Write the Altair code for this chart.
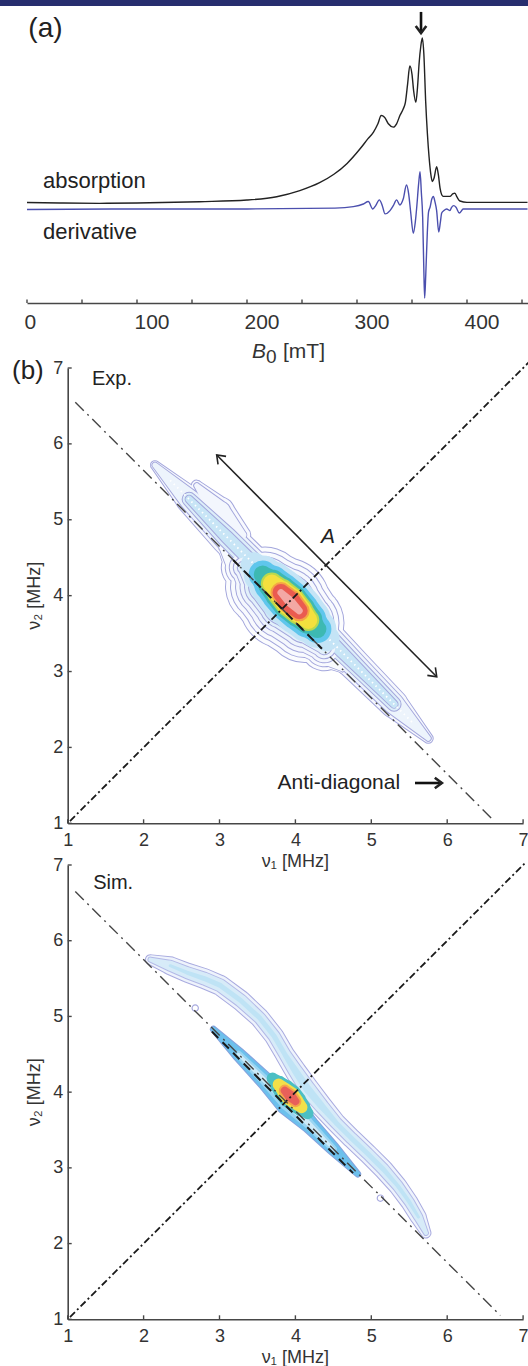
import altair as alt
import pandas as pd

FONT = "Liberation Sans"
INK = "#222222"
AXIS_INK = "#474747"
LAB = "#333333"
LAV = "#a3a6dc"
LINE_W = 2.0

# ---------------- panel (a): field-swept spectrum ----------------
B_ABS = [0, 30, 66, 100, 157, 200, 227, 248, 266, 279, 291, 303, 310, 315, 319, 322, 325, 328.5, 333, 336,
         339, 342, 344, 346, 348, 350, 351.5, 353.5, 355, 356.5, 358, 359.4, 360.8, 362.4, 364, 365.5, 367,
         368.5, 370, 372.4, 374, 375.5, 377, 378.5, 384.5, 387, 389, 391, 393.6, 400, 455]
ABSORPTION = [0.003, 0.0, -0.002, 0.0, 0.008, 0.018, 0.038, 0.075, 0.123, 0.174, 0.24, 0.33, 0.39, 0.43, 0.48,
              0.53, 0.52, 0.48, 0.46, 0.48, 0.53, 0.57, 0.61, 0.72, 0.83, 0.78, 0.68, 0.61, 0.70, 0.85, 0.95,
              1.0, 0.9, 0.62, 0.42, 0.28, 0.18, 0.13, 0.15, 0.22, 0.17, 0.09, 0.05, 0.04, 0.04, 0.055, 0.06,
              0.035, 0.012, 0.004, 0.004]
B_DER = [0, 100, 200, 280, 296.7, 305.8, 310.3, 314.3, 317, 320.3, 323, 325.5, 330, 333, 336, 339, 342, 345,
         347, 348.8, 351.2, 353, 354.3, 356, 357.3, 358.5, 359.7, 360.7, 361.5, 362.5, 363.9, 365, 366.4, 368,
         369.4, 371, 372.4, 374.3, 375.8, 377, 379, 381.5, 384.5, 386, 388, 390, 393, 396.6, 455]
DERIVATIVE = [-0.003, 0, 0, 0.005, 0.014, 0.03, 0.045, 0.0, 0.02, 0.055, 0.02, -0.03, -0.01, 0.02, 0.055,
              0.024, 0.06, 0.145, 0.09, -0.02, -0.147, -0.08, 0.01, 0.15, 0.226, 0.1, -0.05, -0.35, -0.54,
              -0.4, -0.147, -0.02, 0.01, 0.06, 0.075, 0.04, -0.01, -0.14, -0.08, -0.025, -0.01, 0.0, -0.01,
              0.01, 0.02, 0.01, -0.025, 0.0, 0.0]
DERIV_BASELINE = -0.036
TICKS_A = [0, 50, 100, 150, 200, 250, 300, 350, 400, 450]
LABELS_A = [0, 100, 200, 300, 400]
PEAK_ARROW_B = [358.2, 358.2]
PEAK_ARROW_V = [1.158, 1.03]

# ---------------- panel (b): HYSCORE maps ----------------
TICKS_B = [1, 2, 3, 4, 5, 6, 7]
EXP_DIAG = [1.03, 7.08]
SIM_DIAG = [1.03, 7.03]
EXP_ANTI_X = [1.10, 6.62]
EXP_ANTI_Y = [6.55, 1.03]
SIM_ANTI_X = [1.10, 6.70]
SIM_ANTI_Y = [6.65, 1.05]
EXP_SEG_X = [3.18, 4.35]
EXP_SEG_Y = [4.47, 3.30]
SIM_SEG_X = [2.90, 4.76]
SIM_SEG_Y = [4.80, 2.93]
A_ARROW_X = [2.963, 5.862]
A_ARROW_Y = [5.853, 2.932]
AD_ARROW_X = [5.576, 5.93]
AD_ARROW_Y = [1.531, 1.531]

# experimental contours (centre line in MHz, widths in px per contour level; 0 = level absent there)
EXP_RIDGE_X = [2.15, 2.6, 3.1, 3.6, 3.95, 4.3, 4.8, 5.3, 5.75]
EXP_RIDGE_Y = [5.72, 5.27, 4.77, 4.27, 3.92, 3.57, 3.07, 2.57, 2.12]
EXP_RIDGE_W = [[8, 26, 33, 34, 34, 34, 30, 27, 9],
               [5, 20, 26, 27, 28, 27, 23, 20, 5],
               [0, 13, 19, 20, 21, 20, 16, 13, 0],
               [0, 7, 12, 13, 14, 13, 10, 7, 0]]
EXP_LOBE_X = [2.7, 3.0, 3.3]
EXP_LOBE_Y = [5.45, 5.1, 4.8]
EXP_LOBE_W = [[10, 30, 16], [5, 22, 8], [0, 12, 0]]
EXP_BLOB_X = [3.02, 3.32, 3.6, 3.86, 4.12, 4.38, 4.62]
EXP_BLOB_Y = [4.62, 4.37, 4.12, 3.9, 3.64, 3.32, 3.02]
EXP_BLOB_W = [[6, 44, 78, 90, 78, 46, 6],
              [3, 36, 68, 80, 68, 38, 3],
              [0, 28, 58, 70, 58, 30, 0],
              [0, 20, 49, 60, 48, 22, 0],
              [0, 12, 40, 51, 39, 14, 0],
              [0, 0, 32, 44, 31, 0, 0]]
EXP_CORE_X = [3.45, 3.57, 3.69, 3.81, 3.93, 4.05, 4.17, 4.29, 4.41]
EXP_CORE_Y = [4.40, 4.28, 4.16, 4.04, 3.92, 3.80, 3.68, 3.56, 3.44]
EXP_CORE_W = [[26, 38, 45, 49, 50, 49, 45, 38, 26],
              [0, 28, 36, 40, 42, 40, 36, 28, 0],
              [0, 18, 28, 33, 36, 33, 28, 18, 0],
              [0, 0, 22, 28, 31, 28, 22, 0, 0],
              [0, 0, 18, 24, 28, 24, 18, 0, 0],
              [0, 0, 0, 21, 25, 21, 0, 0, 0],
              [0, 0, 0, 17, 21, 17, 0, 0, 0],
              [0, 0, 0, 7, 10, 7, 0, 0, 0]]
EXP_CORE_COLORS = ["#c4e4f6", "#5fc6ec", "#3db9b2", "#b9d94e", "#f4e03e", "#f5a545", "#ea5b50", "#f3a8a4"]
EXP_DOTS_X = [2.35, 3.45, 4.45, 5.55]
EXP_DOTS_Y = [5.52, 4.42, 3.42, 2.32]
EXP_DOTS_SEG = [0, 0, 1, 1]

# simulated contours
SIM_RIDGE_X = [2.09, 2.35, 2.57, 2.80, 3.01, 3.28, 3.53, 3.72, 3.86, 4.00, 4.16, 4.35, 4.54, 4.74, 4.95,
               5.16, 5.35, 5.50, 5.62, 5.72]
SIM_RIDGE_Y = [5.75, 5.67, 5.58, 5.50, 5.41, 5.21, 4.98, 4.74, 4.50, 4.28, 4.04, 3.81, 3.59, 3.39, 3.19,
               2.98, 2.76, 2.55, 2.35, 2.14]
SIM_RIDGE_W = [[9, 17, 18, 19, 19, 19, 18, 18, 18, 20, 22, 20, 18, 18, 18, 18, 17, 16, 15, 9],
               [4, 10, 11, 12, 12, 12, 11, 11, 11, 13, 15, 13, 11, 11, 11, 11, 10, 9, 8, 4],
               [0, 3, 4, 5, 5, 5, 5, 5, 5, 7, 8, 7, 5, 5, 5, 5, 4, 4, 3, 0]]
SIM_LENS_X = [2.92, 3.25, 3.6, 3.9, 4.2, 4.5, 4.82]
SIM_LENS_Y = [4.83, 4.5, 4.15, 3.86, 3.56, 3.25, 2.92]
SIM_LENS_W = [[5, 12, 16, 24, 16, 12, 5],
              [0, 7, 10, 16, 10, 7, 0],
              [0, 3, 5, 8, 5, 3, 0]]
SIM_CORE_X = [3.70, 3.78, 3.86, 3.93, 4.00, 4.08, 4.16]
SIM_CORE_Y = [4.18, 4.10, 4.02, 3.95, 3.88, 3.80, 3.72]
SIM_CORE_W = [[12, 18, 22, 24, 22, 18, 12],
              [0, 12, 16, 19, 16, 12, 0],
              [0, 0, 12, 15, 12, 0, 0],
              [0, 0, 8, 11, 8, 0, 0],
              [0, 0, 0, 6, 0, 0, 0]]
SIM_CORE_COLORS = ["#4cbfc4", "#f2e04a", "#f4a64a", "#e8605a", "#f2a8a8"]
SIM_LOOP_X = [2.68, 5.12]
SIM_LOOP_Y = [5.11, 2.60]

# ---------------- scales (explicit pixel ranges place the three panels) ----------------
XA = alt.Scale(domain=[0, 455], range=[27, 527.5], nice=False, zero=False)
YA = alt.Scale(domain=[0, 1], range=[203, 38], nice=False, zero=False)
XB = alt.Scale(domain=[1, 7], range=[67.7, 523.1], nice=False, zero=False)
YE = alt.Scale(domain=[1, 7], range=[823.3, 368.0], nice=False, zero=False)
YS = alt.Scale(domain=[1, 7], range=[1319.3, 865.0], nice=False, zero=False)


def pos(xs, ys, xaxis=None, yaxis=None):
    return {"x": alt.X("x:Q", scale=xs, axis=xaxis), "y": alt.Y("y:Q", scale=ys, axis=yaxis)}


def xy(X, Y):
    return pd.DataFrame({"x": X, "y": Y, "i": list(range(len(X)))})


def bottom_axis(offset, values, size, align="center", dx=0):
    return alt.Axis(orient="bottom", offset=offset, values=values, format="d", ticks=False, tickSize=0,
                    domain=True, domainColor=AXIS_INK, domainWidth=1.6, labelFont=FONT, labelFontSize=size,
                    labelColor=LAB, labelAlign=align, labelOffset=dx, labelPadding=8, labelFlush=False,
                    labelOverlap=False, grid=False, title=None)


def left_axis(offset, values, size):
    return alt.Axis(orient="left", offset=offset, values=values, format="d", ticks=False, tickSize=0,
                    domain=True, domainColor=AXIS_INK, domainWidth=1.6, labelFont=FONT, labelFontSize=size,
                    labelColor=LAB, labelPadding=5, labelFlush=False, labelOverlap=False, grid=False,
                    title=None)


def line(X, Y, xs, ys, xaxis=None, yaxis=None, **kw):
    return alt.Chart(xy(X, Y)).mark_line(**kw).encode(**pos(xs, ys, xaxis, yaxis), order="i:Q")


def text(labels, X, Y, xs, ys, **kw):
    df = pd.DataFrame({"x": X, "y": Y, "t": labels})
    return alt.Chart(df).mark_text(font=FONT, **kw).encode(**pos(xs, ys), text="t:N")


CHEVRON = "M-1,-0.75L0,0L-1,0.75"


def head(x, y, xs, ys, angle, size, sw):
    return alt.Chart(xy([x], [y])).mark_point(shape=CHEVRON, filled=False, size=size, angle=angle,
                                              strokeWidth=sw, color=INK, opacity=1,
                                              strokeJoin="miter").encode(**pos(xs, ys))


def xticks(vals, xs, y0, y1):
    return alt.Chart(pd.DataFrame({"x": vals})).mark_rule(color=AXIS_INK, strokeWidth=1.4).encode(
        x=alt.X("x:Q", scale=xs, axis=None), y=alt.value(y0), y2=alt.value(y1))


def yticks(vals, ys, x0, x1):
    return alt.Chart(pd.DataFrame({"y": vals})).mark_rule(color=AXIS_INK, strokeWidth=1.4).encode(
        y=alt.Y("y:Q", scale=ys, axis=None), x=alt.value(x0), x2=alt.value(x1))


def trail(df, xs, ys):
    return alt.Chart(df).mark_trail(opacity=1).encode(
        **pos(xs, ys),
        size=alt.Size("w:Q", scale=None, legend=None),
        color=alt.Color("c:N", scale=None, legend=None),
        detail="shape:N",
        order="i:Q")


def contour(levels, xs, ys):
    out = []
    for lvl in levels:
        o_rows, f_rows = [], []
        for name, X, Y, Wd, fill, outline in lvl:
            for k, w in enumerate(Wd):
                if w <= 0:
                    continue
                f_rows.append({"shape": name, "i": k, "x": X[k], "y": Y[k], "w": w, "c": fill})
                if outline:
                    o_rows.append({"shape": name, "i": k, "x": X[k], "y": Y[k], "w": w + LINE_W,
                                   "c": outline})
        if o_rows:
            out.append(trail(pd.DataFrame(o_rows), xs, ys))
        out.append(trail(pd.DataFrame(f_rows), xs, ys))
    return out


layers = []

# ---------- panel (a) ----------
layers.append(alt.Chart(pd.DataFrame({"a": [0]})).mark_rect(color="#272e6e").encode(
    x=alt.value(0), x2=alt.value(528), y=alt.value(0), y2=alt.value(6)))
layers.append(line(B_DER, [d + DERIV_BASELINE for d in DERIVATIVE], XA, YA,
                   color="#4b4fae", strokeWidth=1.4, interpolate="monotone"))
layers.append(line(B_ABS, ABSORPTION, XA, YA, xaxis=bottom_axis(-1063, LABELS_A, 21, "left", -3),
                   color=INK, strokeWidth=1.4, interpolate="monotone"))
layers.append(xticks(TICKS_A, XA, 303, 299.5))
layers.append(text(["absorption", "derivative"], [14.5, 14.5], [0.091, -0.218], XA, YA,
                   fontSize=22, color=INK, align="left", baseline="alphabetic"))
layers.append(text(["(a)"], [1.2], [1.006], XA, YA, fontSize=28, color=INK, align="left",
                   baseline="alphabetic"))
layers.append(text(["B"], [204.5], [-0.939], XA, YA, fontSize=21, fontStyle="italic", color=LAB,
                   align="left", baseline="alphabetic"))
layers.append(text(["0"], [217.3], [-0.970], XA, YA, fontSize=19, color=LAB, align="left",
                   baseline="alphabetic"))
layers.append(text(["[mT]"], [232.7], [-0.939], XA, YA, fontSize=21, color=LAB, align="left",
                   baseline="alphabetic"))
layers.append(line(PEAK_ARROW_B, PEAK_ARROW_V, XA, YA, color="#111111", strokeWidth=2.6))
layers.append(head(PEAK_ARROW_B[1], PEAK_ARROW_V[1], XA, YA, 90, 200, 2.6))

# ---------- panel (b) experiment ----------
EXP_LEVELS = [
    [("ridge", EXP_RIDGE_X, EXP_RIDGE_Y, EXP_RIDGE_W[0], "#f6f8fd", LAV),
     ("lobe", EXP_LOBE_X, EXP_LOBE_Y, EXP_LOBE_W[0], "#f8f9fe", LAV),
     ("blob", EXP_BLOB_X, EXP_BLOB_Y, EXP_BLOB_W[0], "#fbfcfe", LAV)],
    [("ridge", EXP_RIDGE_X, EXP_RIDGE_Y, EXP_RIDGE_W[1], "#edf4fc", LAV),
     ("lobe", EXP_LOBE_X, EXP_LOBE_Y, EXP_LOBE_W[1], "#f3f6fd", LAV),
     ("blob", EXP_BLOB_X, EXP_BLOB_Y, EXP_BLOB_W[1], "#f8fafe", LAV)],
    [("ridge", EXP_RIDGE_X, EXP_RIDGE_Y, EXP_RIDGE_W[2], "#dcedf9", LAV),
     ("lobe", EXP_LOBE_X, EXP_LOBE_Y, EXP_LOBE_W[2], "#eaf2fb", LAV),
     ("blob", EXP_BLOB_X, EXP_BLOB_Y, EXP_BLOB_W[2], "#f4f7fd", LAV)],
    [("ridge", EXP_RIDGE_X, EXP_RIDGE_Y, EXP_RIDGE_W[3], "#c8e5f6", LAV),
     ("blob", EXP_BLOB_X, EXP_BLOB_Y, EXP_BLOB_W[3], "#eef4fc", LAV)],
    [("blob", EXP_BLOB_X, EXP_BLOB_Y, EXP_BLOB_W[4], "#e2f0fa", LAV)],
    [("blob", EXP_BLOB_X, EXP_BLOB_Y, EXP_BLOB_W[5], "#cfe7f7", LAV)],
] + [[("core", EXP_CORE_X, EXP_CORE_Y, w, c, None)] for w, c in zip(EXP_CORE_W, EXP_CORE_COLORS)]
layers += contour(EXP_LEVELS, XB, YE)
dots = pd.DataFrame({"x": EXP_DOTS_X, "y": EXP_DOTS_Y, "s": EXP_DOTS_SEG, "i": list(range(4))})
layers.append(alt.Chart(dots).mark_line(color="white", strokeWidth=1.8, strokeDash=[1.5, 3.5]).encode(
    **pos(XB, YE), detail="s:N", order="i:Q"))

layers.append(line(EXP_DIAG, EXP_DIAG, XB, YE, xaxis=bottom_axis(-542.7, TICKS_B, 18),
                   yaxis=left_axis(-67.7, TICKS_B, 18), color="#1a1a1a", strokeWidth=1.8,
                   strokeDash=[7, 3, 2, 3]))
layers.append(line(EXP_ANTI_X, EXP_ANTI_Y, XB, YE, color="#444444", strokeWidth=1.4,
                   strokeDash=[12, 5, 2, 5]))
layers.append(line(EXP_SEG_X, EXP_SEG_Y, XB, YE, color="#1a1a1a", strokeWidth=2.0, strokeDash=[9, 6]))
layers.append(line(A_ARROW_X, A_ARROW_Y, XB, YE, color=INK, strokeWidth=1.6))
layers.append(head(A_ARROW_X[0], A_ARROW_Y[0], XB, YE, 225, 230, 1.6))
layers.append(head(A_ARROW_X[1], A_ARROW_Y[1], XB, YE, 45, 230, 1.6))
layers.append(line(AD_ARROW_X, AD_ARROW_Y, XB, YE, color="#111111", strokeWidth=2.6))
layers.append(head(AD_ARROW_X[1], AD_ARROW_Y[1], XB, YE, 0, 200, 2.6))
layers.append(xticks(TICKS_B, XB, 823.3, 819.3))
layers.append(yticks(TICKS_B, YE, 67.7, 71.7))
layers.append(text(["Exp."], [1.32], [6.77], XB, YE, fontSize=20, color=INK, align="left",
                   baseline="alphabetic"))
layers.append(text(["A"], [4.43], [4.776], XB, YE, fontSize=21, fontStyle="italic", color=INK,
                   align="center", baseline="middle"))
layers.append(text(["Anti-diagonal"], [5.38], [1.531], XB, YE, fontSize=21, color=INK, align="right",
                   baseline="middle"))
layers.append(text(["(b)"], [0.266], [6.854], XB, YE, fontSize=26, color=INK, align="left",
                   baseline="alphabetic"))
layers.append(text(["ν₁ [MHz]"], [4.0], [0.49], XB, YE, fontSize=18, color=LAB, align="center",
                   baseline="middle"))
layers.append(text(["ν₂ [MHz]"], [0.5626], [4.0], XB, YE, fontSize=18, color=LAB, align="center",
                   baseline="middle", angle=270))

# ---------- panel (b) simulation ----------
SIM_LEVELS = [
    [("ridge", SIM_RIDGE_X, SIM_RIDGE_Y, SIM_RIDGE_W[0], "#eef3fc", "#a8aadf"),
     ("lens", SIM_LENS_X, SIM_LENS_Y, SIM_LENS_W[0], "#6cc0ec", "#86a2dd")],
    [("ridge", SIM_RIDGE_X, SIM_RIDGE_Y, SIM_RIDGE_W[1], "#d7ebf8", "#b3b9e7"),
     ("lens", SIM_LENS_X, SIM_LENS_Y, SIM_LENS_W[1], "#9ad5f2", None)],
    [("ridge", SIM_RIDGE_X, SIM_RIDGE_Y, SIM_RIDGE_W[2], "#bfe3f5", None),
     ("lens", SIM_LENS_X, SIM_LENS_Y, SIM_LENS_W[2], "#cdeaf8", None)],
] + [[("core", SIM_CORE_X, SIM_CORE_Y, w, c, None)] for w, c in zip(SIM_CORE_W, SIM_CORE_COLORS)]
layers += contour(SIM_LEVELS, XB, YS)
layers.append(alt.Chart(xy(SIM_LOOP_X, SIM_LOOP_Y)).mark_point(
    shape="circle", filled=False, size=40, color="#a8aadf", strokeWidth=1.2, opacity=1).encode(**pos(XB, YS)))

layers.append(line(SIM_DIAG, SIM_DIAG, XB, YS, xaxis=bottom_axis(-46.7, TICKS_B, 18),
                   yaxis=left_axis(-67.7, TICKS_B, 18), color="#1a1a1a", strokeWidth=1.8,
                   strokeDash=[7, 3, 2, 3]))
layers.append(line(SIM_ANTI_X, SIM_ANTI_Y, XB, YS, color="#444444", strokeWidth=1.4,
                   strokeDash=[12, 5, 2, 5]))
layers.append(line(SIM_SEG_X, SIM_SEG_Y, XB, YS, color="#1a1a1a", strokeWidth=2.0, strokeDash=[9, 6]))
layers.append(xticks(TICKS_B, XB, 1319.3, 1315.3))
layers.append(yticks(TICKS_B, YS, 67.7, 71.7))
layers.append(text(["Sim."], [1.335], [6.684], XB, YS, fontSize=20, color=INK, align="left",
                   baseline="alphabetic"))
layers.append(text(["ν₁ [MHz]"], [4.0], [0.495], XB, YS, fontSize=18, color=LAB, align="center",
                   baseline="middle"))
layers.append(text(["ν₂ [MHz]"], [0.5626], [4.0], XB, YS, fontSize=18, color=LAB, align="center",
                   baseline="middle", angle=270))

chart = alt.layer(*layers).resolve_scale(x="independent", y="independent").properties(
    width=528, height=1366, padding=0, background="white",
    autosize=alt.AutoSizeParams(type="none")
).configure_view(strokeWidth=0)

chart.save("out.html", embed_options={"renderer": "svg", "actions": False})
